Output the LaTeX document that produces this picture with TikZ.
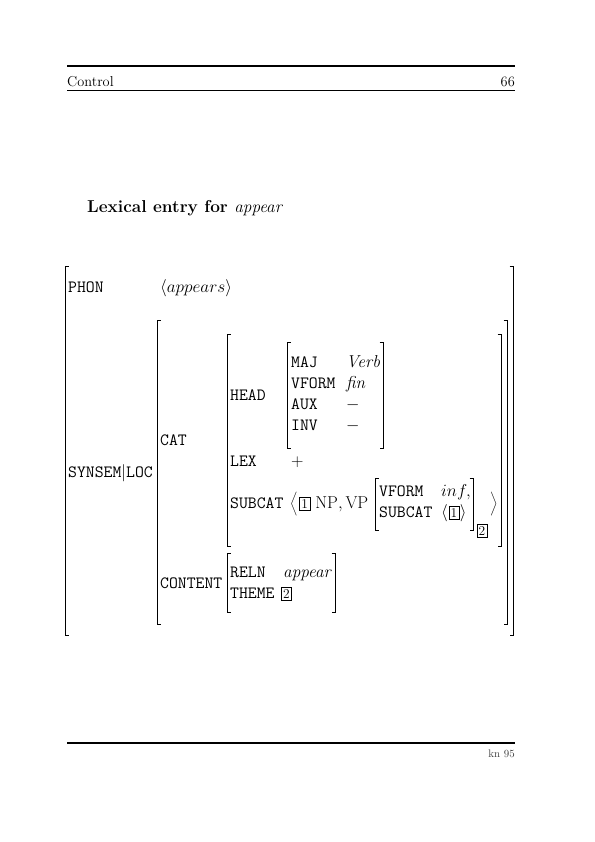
\documentclass[tikz,border=0pt]{standalone}
\usepackage{tikz}
\usetikzlibrary{positioning}
\newcommand{\avmlb}[3]{\draw[br] (#1+3.5,#2) -- (#1,#2) -- (#1,#3) -- (#1+3.5,#3);}
\newcommand{\avmrb}[3]{\draw[br] (#1-3.5,#2) -- (#1,#2) -- (#1,#3) -- (#1-3.5,#3);}
\begin{document}
\begin{tikzpicture}[x=1bp,y=-1bp,
      ft/.style={font=\fontsize{17.28}{20}\selectfont\ttfamily,inner sep=0pt,anchor=base west},
      vl/.style={font=\fontsize{17.28}{20}\selectfont,inner sep=0pt,anchor=base west},
      tg/.style={draw,line width=0.5bp,inner sep=1.8bp,font=\fontsize{13.5}{13.5}\selectfont},
      br/.style={line width=0.55bp}]
    \useasboundingbox (0,0) rectangle (595,842);
    \draw[line width=1.6bp] (67,66) -- (515,66);
    \draw[line width=0.4bp] (67,90) -- (515,90);
    \node[vl,font=\fontsize{14.4}{17}\selectfont] (sec) at (67,86) {Control};
    \node[vl,font=\fontsize{14.4}{17}\selectfont,anchor=base east] (pg) at (515,86) {66};
    \node[vl,font=\fontsize{17.28}{20}\selectfont\bfseries] (ttl) at (87,212) {Lexical entry for {\normalfont\itshape appear}};
    \node[ft] (phon) at (68,292) {PHON};
    \node[vl] (phonv) at (160,292) {$\langle appears\rangle$};
    \node[ft] (ss) at (68,477) {SYNSEM$|$LOC};
    \node[ft] (cat) at (160,445) {CAT};
    \node[ft] (cont) at (160,588) {CONTENT};
    \node[ft] (head) at (230,400) {HEAD};
    \node[ft] (maj) at (291,367) {MAJ};
    \node[ft] (vform) at (291,388) {VFORM};
    \node[ft] (aux) at (291,409) {AUX};
    \node[ft] (inv) at (291,430) {INV};
    \node[vl] (majv) at (346,367) {\textit{Verb}};
    \node[vl] (vformv) at (346,388) {\textit{fin}};
    \node[vl] (auxv) at (346,409) {$-$};
    \node[vl] (invv) at (346,430) {$-$};
    \node[ft] (lex) at (230,466) {LEX};
    \node[vl] (lexv) at (291,466) {$+$};
    \node[ft] (subcat) at (230,508) {SUBCAT};
    \node[vl] (langl) at (290,508) {$\bigg\langle$};
    \node[tg,base right=1.5bp of langl] (t1) {1};
    \node[vl,base right=5bp of t1] (npvp) {$\mathrm{NP},\mathrm{VP}$};
    \node[ft] (vpvf) at (379,496) {VFORM};
    \node[ft] (vpsc) at (379,517) {SUBCAT};
    \node[vl] (vpvfv) at (441,496) {$inf,$};
    \node[vl] (vpscl) at (441,517) {$\langle$};
    \node[tg,base right=0.5bp of vpscl] (t1b) {1};
    \node[vl,base right=0.5bp of t1b] (vpscr) {$\rangle$};
    \node[tg] (t2) at (482,531) {2};
    \node[vl] (rangl) at (490,508) {$\bigg\rangle$};
    \node[ft] (reln) at (230,577) {RELN};
    \node[vl] (relnv) at (283,577) {\textit{appear}};
    \node[ft] (theme) at (230,598) {THEME};
    \node[tg,anchor=base west] (t2b) at (281,598) {2};
    \avmlb{65}{266}{635} \avmrb{513}{266}{635}
    \avmlb{157}{320}{624} \avmrb{507}{320}{624}
    \avmlb{227}{334}{546} \avmrb{501}{334}{546}
    \avmlb{287}{342}{448} \avmrb{383}{342}{448}
    \avmlb{375}{478}{530} \avmrb{473}{478}{530}
    \avmlb{227}{553}{612} \avmrb{335}{553}{612}
    \draw[line width=1.2bp] (67,743) -- (515,743);
    \node[vl,font=\fontsize{10.95}{13}\selectfont,anchor=base east,text=black!75] (kn) at (515,757) {kn 95};
  \end{tikzpicture}
\end{document}
